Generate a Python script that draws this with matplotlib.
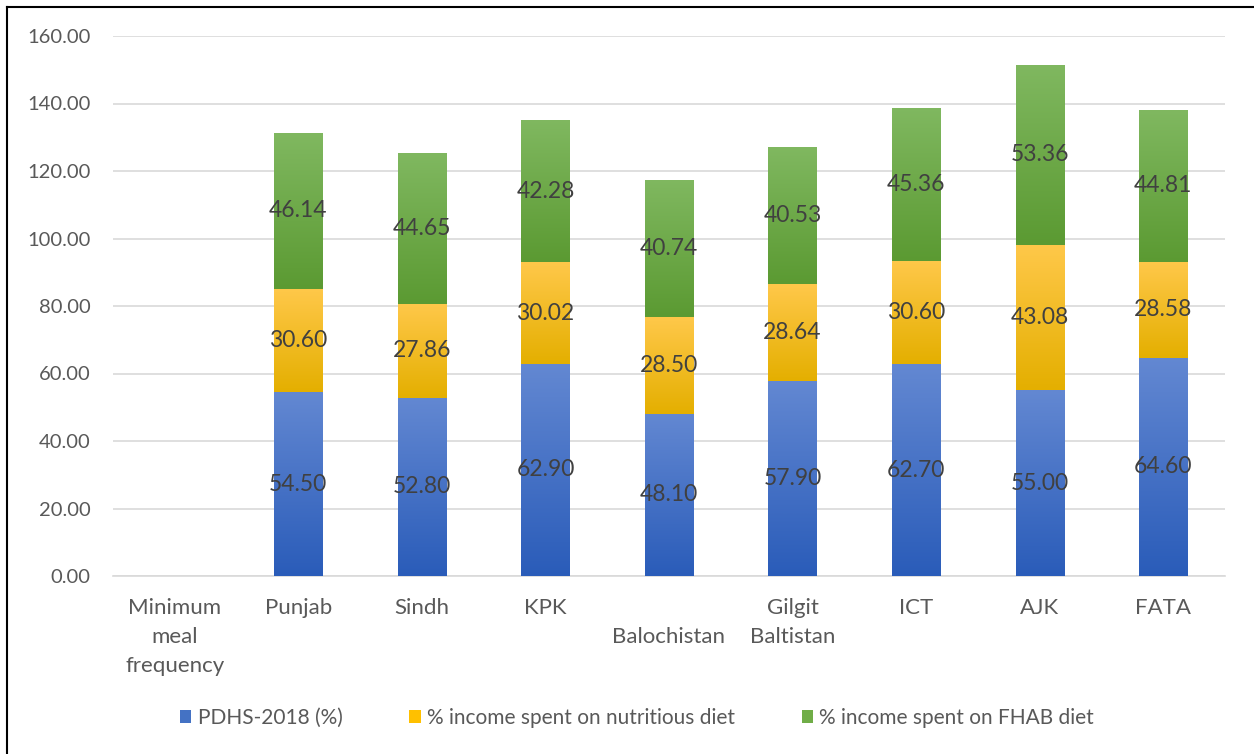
import numpy as np
import matplotlib
matplotlib.use("Agg")
import matplotlib.pyplot as plt
from matplotlib.colors import LinearSegmentedColormap
from matplotlib.lines import Line2D
from matplotlib.patches import Patch

plt.rcParams['font.family'] = ['Lato', 'DejaVu Sans']

# data
categories = ["Minimum\nmeal\nfrequency", "Punjab", "Sindh", "KPK", "\nBalochistan",
              "Gilgit\nBaltistan", "ICT", "AJK", "FATA"]
pdhs = [0, 54.50, 52.80, 62.90, 48.10, 57.90, 62.70, 55.00, 64.60]
nutritious = [0, 30.60, 27.86, 30.02, 28.50, 28.64, 30.60, 43.08, 28.58]
fhab = [0, 46.14, 44.65, 42.28, 40.74, 40.53, 45.36, 53.36, 44.81]
series_names = ["PDHS-2018 (%)", "% income spent on nutritious diet", "% income spent on FHAB diet"]

# (top colour, bottom colour) for the gradient fills
grad = [("#6388d2", "#2a5cb9"), ("#ffc84a", "#e4af00"), ("#80b860", "#5b9a32")]
legend_cols = ["#4472c4", "#ffc000", "#70ad47"]

fig = plt.figure(figsize=(12.54, 7.54), dpi=100)
ax = fig.add_axes([113 / 1254, 1 - 576 / 754, 1112 / 1254, 540 / 754])

x = np.arange(len(categories))
width = 0.39
bottom = np.zeros(len(categories))
grad_img = np.linspace(1, 0, 256).reshape(-1, 1)

for vals, (ctop, cbot) in zip([pdhs, nutritious, fhab], grad):
    vals = np.array(vals, dtype=float)
    bars = ax.bar(x, vals, width, bottom=bottom, color="none", edgecolor="none", zorder=3)
    cmap = LinearSegmentedColormap.from_list("g", [cbot, ctop])
    for b, v in zip(bars, vals):
        if v <= 0:
            continue
        x0, y0 = b.get_x(), b.get_y()
        w, h = b.get_width(), b.get_height()
        im = ax.imshow(grad_img, cmap=cmap, vmin=0, vmax=1, aspect="auto",
                       extent=[x0, x0 + w, y0, y0 + h], zorder=3,
                       interpolation="bilinear")
        im.set_clip_path(b)
        ax.text(x0 + w / 2, y0 + h / 2, f"{v:.2f}", ha="center", va="center",
                fontsize=16.5, color="#404040", zorder=5)
    bottom += vals

ax.set_xlim(-0.5, len(categories) - 0.5)
ax.set_ylim(0, 160)
ax.set_yticks(np.arange(0, 161, 20))
ax.set_yticklabels([f"{t:.2f}" for t in np.arange(0, 161, 20)])
ax.set_xticks(x)
ax.set_xticklabels(categories, va="top", linespacing=1.55)
ax.tick_params(axis="both", length=0, labelcolor="#595959")
ax.tick_params(axis="y", labelsize=14.5, pad=16)
ax.tick_params(axis="x", labelsize=16, pad=16)
ax.grid(axis="y", color="#d9d9d9", linewidth=1.2, zorder=0)
ax.set_axisbelow(True)
for s in ["top", "right", "left"]:
    ax.spines[s].set_visible(False)
ax.spines["bottom"].set_color("#d9d9d9")
ax.spines["bottom"].set_linewidth(1.2)

handles = [Patch(facecolor=c, edgecolor="none") for c in legend_cols]
fig.legend(handles, series_names, loc="center", bbox_to_anchor=(0.508, 1 - 718 / 754),
           ncol=3, frameon=False, fontsize=15, labelcolor="#595959",
           handlelength=0.55, handleheight=0.55, handletextpad=0.3, columnspacing=3.2)

# outer frame (left and top edges)
fig.add_artist(Line2D([7 / 1254, 7 / 1254], [0, 1 - 7 / 754], color="black", lw=1.5))
fig.add_artist(Line2D([7 / 1254, 1], [1 - 7 / 754, 1 - 7 / 754], color="black", lw=1.5))

fig.savefig("out.png", dpi=100)
